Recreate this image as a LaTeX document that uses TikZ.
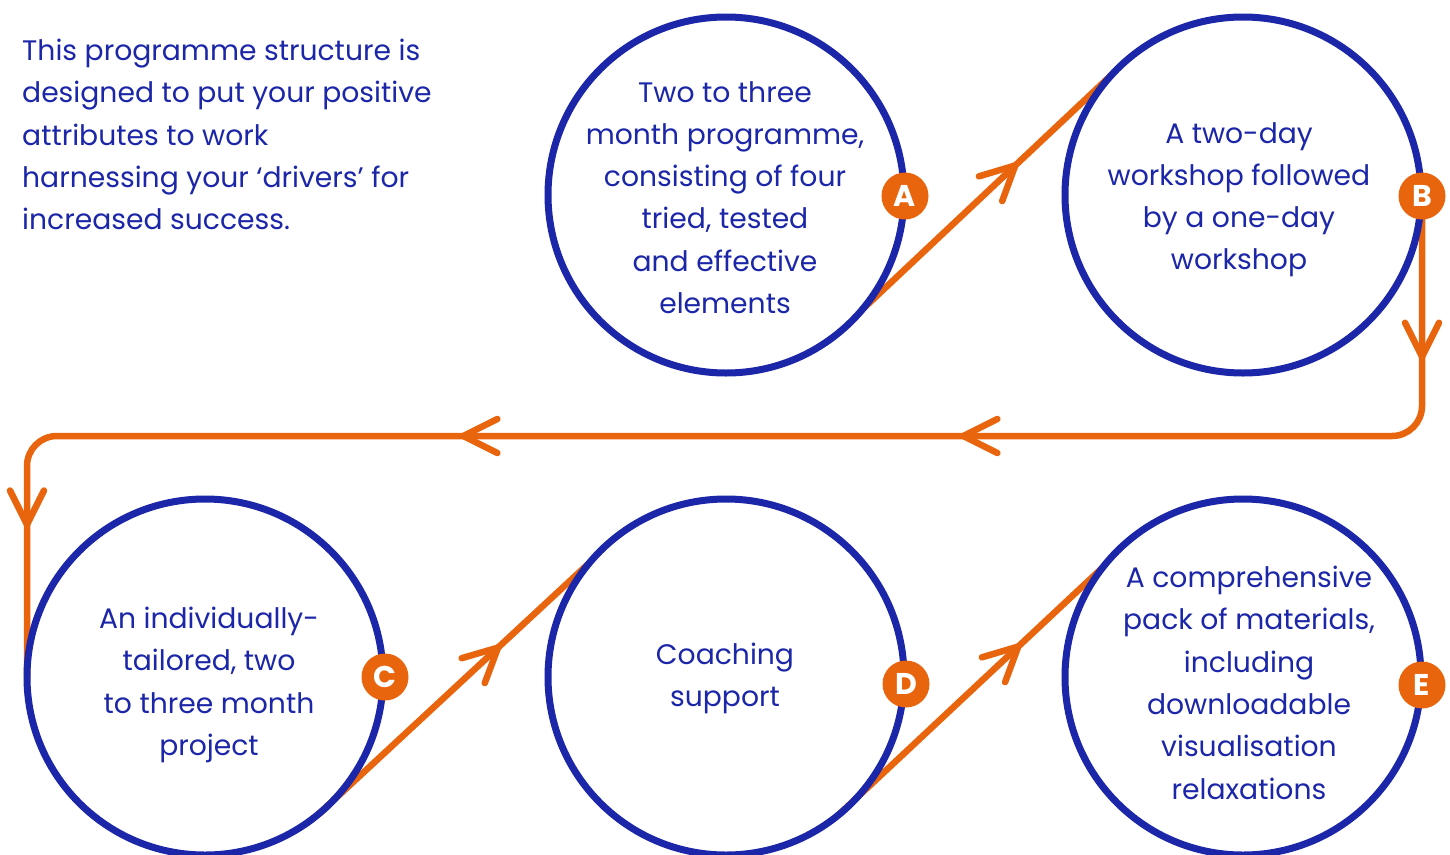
\documentclass[tikz,border=0pt]{standalone}
\usepackage{fontspec}
\setmainfont{Poppins}
\usetikzlibrary{arrows.meta,decorations.markings,backgrounds}
\definecolor{pblue}{RGB}{27,38,168}
\definecolor{porange}{RGB}{233,101,13}
\tikzset{flowtip/.tip={Straight Barb[length=34pt,width=34pt,round]}}
\begin{document}
\begin{tikzpicture}[x=1pt,y=-1pt,
 ring/.style={circle,draw=pblue,line width=7pt,minimum size=356pt,inner sep=0pt,outer sep=0pt},
 badge/.style={circle,fill=porange,minimum size=47pt,inner sep=0pt,text=white,font=\fontsize{30}{30}\selectfont\bfseries},
 body/.style={text=pblue,font=\fontsize{28.2}{42.3}\selectfont,align=center,inner sep=0pt,anchor=north},
 flow/.style={draw=porange,line width=6.5pt,postaction={decorate}},
]
\useasboundingbox (0,0) rectangle (1450,854);

\node[body,align=left,anchor=north west] (intro) at (22,39) {This programme structure is\\designed to put your positive\\attributes to work\\harnessing your ‘drivers’ for\\increased success.};

\node[ring] (A) at (726,195) {};
\node[ring] (B) at (1243,195) {};
\node[ring] (C) at (205,677) {};
\node[ring] (D) at (726,677) {};
\node[ring] (E) at (1243,677) {};

\node[body] (tA) at (725,81) {Two to three\\month programme,\\consisting of four\\tried, tested\\and effective\\elements};
\node[body] (tB) at (1239,122) {A two-day\\workshop followed\\by a one-day\\workshop};
\node[body] (tC) at (209,607) {An individually-\\tailored, two\\to three month\\project};
\node[body] (tD) at (725,643) {Coaching\\support};
\node[body] (tE) at (1249,566) {A comprehensive\\pack of materials,\\including\\downloadable\\visualisation\\relaxations};

\coordinate (hl) at (0,436);

\begin{scope}[on background layer]
\fill[white] (0,0) rectangle (1450,854);
\draw[flow,decoration={markings,mark=at position 0.62 with {\arrow{flowtip}}}] (A.-40) -- (B.137.5);
\draw[flow,decoration={markings,mark=at position 0.67 with {\arrow{flowtip}}}] (C.-50) -- (D.140);
\draw[flow,decoration={markings,mark=at position 0.69 with {\arrow{flowtip}}}] (D.-51) -- (E.142.5);
\draw[flow,rounded corners=30pt,decoration={markings,
   mark=at position 164pt with {\arrow{flowtip}},
   mark=at position 689pt with {\arrow{flowtip}},
   mark=at position 1189pt with {\arrow{flowtip}},
   mark=at position 1701pt with {\arrow{flowtip}}}]
  (1422,196) coordinate (start) -- (start |- hl) -- (C.west |- hl) -- (C.west);
\end{scope}

\node[badge] (bA) at (905,196) {A};
\node[badge] (bB) at (1422,196) {B};
\node[badge] (bC) at (385,677) {C};
\node[badge] (bD) at (906,684) {D};
\node[badge] (bE) at (1422,685) {E};
\end{tikzpicture}
\end{document}
